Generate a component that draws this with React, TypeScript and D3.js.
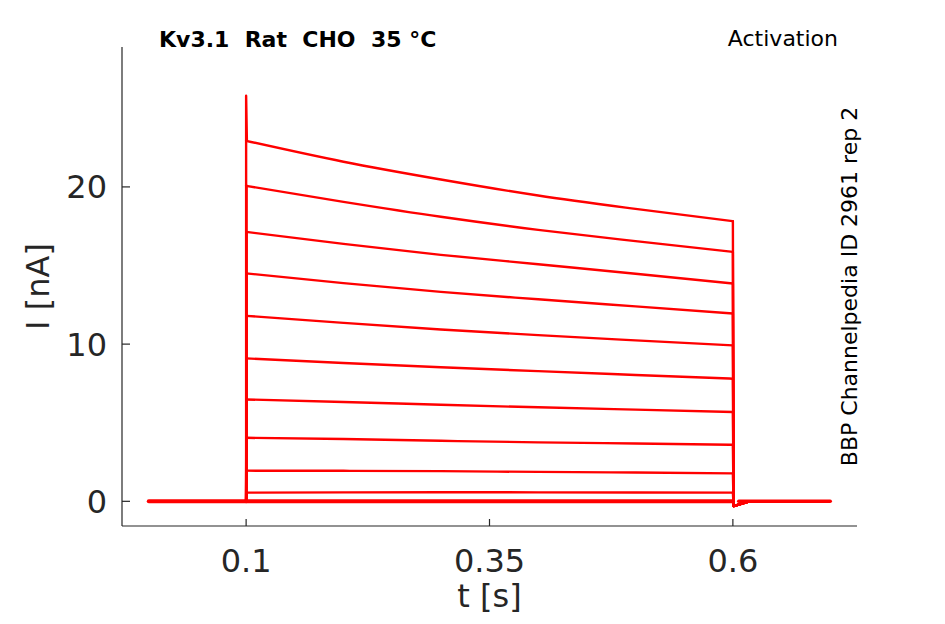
import React, { useRef, useEffect } from 'react';
import * as d3 from 'd3';

// sample times during the test pulse (s)
const sampleTimes: number[] = [0.1, 0.2, 0.3, 0.4, 0.5, 0.6];

// current traces (nA), one per voltage step
const trace0: number[] = [0, 0, 0, 0, 0, 0];
const trace1: number[] = [0.55, 0.57, 0.58, 0.57, 0.56, 0.55];
const trace2: number[] = [1.95, 1.94, 1.92, 1.87, 1.83, 1.78];
const trace3: number[] = [4.04, 3.96, 3.85, 3.75, 3.68, 3.6];
const trace4: number[] = [6.48, 6.32, 6.14, 5.98, 5.83, 5.68];
const trace5: number[] = [9.09, 8.8, 8.53, 8.28, 8.04, 7.8];
const trace6: number[] = [11.8, 11.35, 10.93, 10.57, 10.24, 9.92];
const trace7: number[] = [14.5, 13.88, 13.32, 12.85, 12.4, 11.95];
const trace8: number[] = [17.14, 16.38, 15.68, 15.08, 14.48, 13.86];
const trace9: number[] = [20.07, 19.05, 18.1, 17.27, 16.55, 15.87];
const trace10: number[] = [22.93, 21.6, 20.47, 19.45, 18.6, 17.82];

const traces: number[][] = [trace0, trace1, trace2, trace3, trace4, trace5, trace6, trace7, trace8, trace9, trace10];

// protocol timing (s) and transients (nA)
const tStart = 0;
const tEnd = 0.7;
const tailRecover = 0.617;
const spikePeak = 25.8;
const tailDip = -0.3;

const xTicks: number[] = [0.1, 0.35, 0.6];
const yTicks: number[] = [0, 10, 20];

const title = 'Kv3.1  Rat  CHO  35 \u00B0C';
const protocol = 'Activation';
const source = 'BBP Channelpedia ID 2961 rep 2';

const Chart: React.FC = () => {
  const svgRef = useRef<SVGSVGElement | null>(null);

  useEffect(() => {
    if (!svgRef.current) return;
    const width = 945;
    const height = 624;
    const left = 122;
    const right = 857;
    const top = 47;
    const bottom = 526;
    const font = '"DejaVu Sans", sans-serif';
    const axisColor = '#262626';

    const x = d3.scaleLinear().domain([-0.0275, 0.7275]).range([left, right]);
    const y = d3.scaleLinear().domain([-1.57, 28.9]).range([bottom, top]);

    const svg = d3.select(svgRef.current).attr('width', width).attr('height', height);
    svg.selectAll('*').remove();

    const lin = d3.line<[number, number]>().x(d => x(d[0])).y(d => y(d[1]));
    const smooth = d3.line<[number, number]>().x(d => x(d[0])).y(d => y(d[1])).curve(d3.curveMonotoneX);

    const g = svg.append('g').attr('fill', 'none').attr('stroke', '#ff0000')
      .attr('stroke-linejoin', 'round').attr('stroke-linecap', 'round');

    const t0 = sampleTimes[0];
    const t1 = sampleTimes[sampleTimes.length - 1];

    traces.forEach((vals, i) => {
      const first = vals[0];
      const last = vals[vals.length - 1];
      const isTop = i === traces.length - 1;
      const pre: [number, number][] = isTop
        ? [[t0, 0], [t0, spikePeak], [t0 + 0.0008, first]]
        : [[t0, 0], [t0 + 0.0005, first]];
      g.append('path').attr('stroke-width', 2.4).attr('d', lin(pre));
      const mid: [number, number][] = sampleTimes.map((t, k) => [t, vals[k]]);
      g.append('path').attr('stroke-width', i === 0 ? 4 : 2.4).attr('d', smooth(mid));
      const post: [number, number][] = [[t1, last], [t1 + 0.0008, tailDip], [tailRecover, 0]];
      g.append('path').attr('stroke-width', 2.4).attr('d', lin(post));
    });

    // holding current before and after the pulse
    g.append('path').attr('stroke-width', 4).attr('d', lin([[tStart, 0], [t0, 0]]));
    g.append('path').attr('stroke-width', 3.5).attr('d', lin([[t1 + 0.006, 0], [tEnd, 0]]));

    // axes (box off, ticks inward)
    const ax = svg.append('g').attr('stroke', axisColor).attr('stroke-width', 1.2);
    ax.append('line').attr('x1', left).attr('x2', left).attr('y1', top).attr('y2', bottom);
    ax.append('line').attr('x1', left).attr('x2', right).attr('y1', bottom).attr('y2', bottom);
    xTicks.forEach(t => {
      ax.append('line').attr('x1', x(t)).attr('x2', x(t)).attr('y1', bottom).attr('y2', bottom - 7);
    });
    yTicks.forEach(v => {
      ax.append('line').attr('x1', left).attr('x2', left + 8).attr('y1', y(v)).attr('y2', y(v));
    });

    svg.append('g').selectAll('text').data(xTicks).join('text')
      .attr('x', d => x(d)).attr('y', 572)
      .attr('text-anchor', 'middle').attr('font-family', font).attr('font-size', 32)
      .attr('fill', axisColor).text(d => String(d));

    svg.append('g').selectAll('text').data(yTicks).join('text')
      .attr('x', 107).attr('y', d => y(d) + 11.5)
      .attr('text-anchor', 'end').attr('font-family', font).attr('font-size', 32)
      .attr('fill', axisColor).text(d => String(d));

    svg.append('text').attr('x', (left + right) / 2).attr('y', 607)
      .attr('text-anchor', 'middle').attr('font-family', font).attr('font-size', 32)
      .attr('fill', axisColor).text('t [s]');

    svg.append('text').attr('transform', `translate(49,${(top + bottom) / 2}) rotate(-90)`)
      .attr('text-anchor', 'middle').attr('font-family', font).attr('font-size', 32)
      .attr('fill', axisColor).text('I [nA]');

    svg.append('text').attr('x', 159).attr('y', 47)
      .attr('font-family', font).attr('font-size', 22).attr('font-weight', 'bold')
      .attr('fill', '#000').attr('xml:space', 'preserve').style('white-space', 'pre').text(title);

    svg.append('text').attr('x', 838).attr('y', 46)
      .attr('text-anchor', 'end').attr('font-family', font).attr('font-size', 22)
      .attr('fill', '#000').text(protocol);

    svg.append('text').attr('transform', `translate(857,${(top + bottom) / 2}) rotate(-90)`)
      .attr('text-anchor', 'middle').attr('font-family', font).attr('font-size', 22)
      .attr('fill', '#000').text(source);
  }, []);

  return <svg ref={svgRef} style={{ position: 'absolute', left: 0, top: 0, background: '#fff' }}></svg>;
};

export default function App() {
  return <Chart />;
}
